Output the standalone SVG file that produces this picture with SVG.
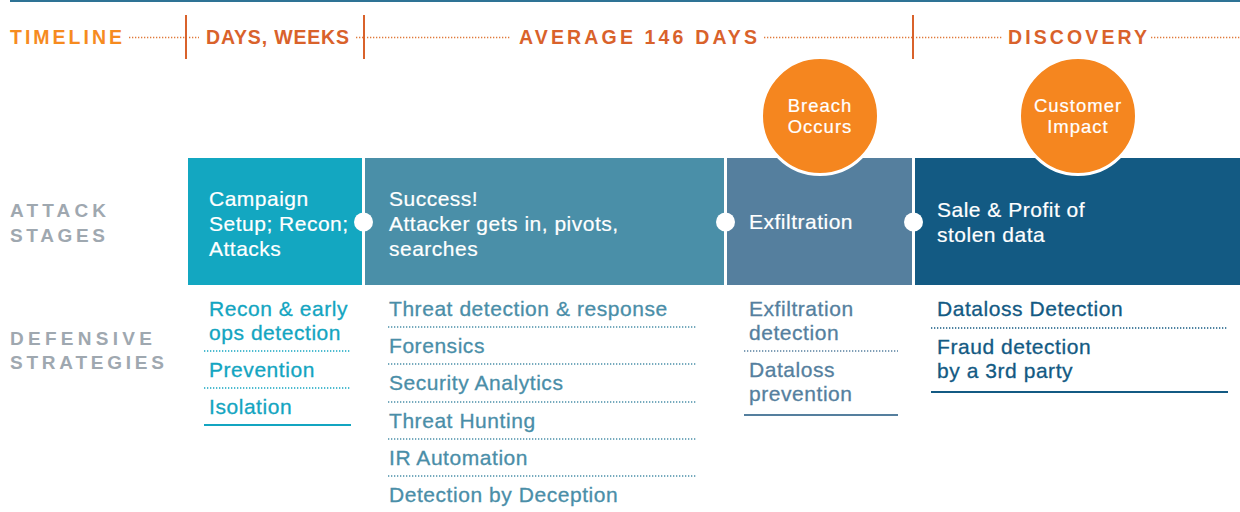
<svg xmlns="http://www.w3.org/2000/svg" width="1240" height="512" viewBox="0 0 1240 512">
<style>
.hdr{font-family:"Liberation Sans",Arial,sans-serif;font-weight:bold;font-size:19.5px;fill:#d9622b}
.tl{fill:#f68b1f}
.lbl{font-family:"Liberation Sans",Arial,sans-serif;font-weight:bold;font-size:19px;fill:#9fa8b0}
.bx{font-family:"Liberation Sans",Arial,sans-serif;font-size:21px;letter-spacing:0.5px;fill:#ffffff;stroke:#ffffff;stroke-width:0.2}
.ct{font-family:"Liberation Sans",Arial,sans-serif;font-size:18.5px;letter-spacing:1px;fill:#ffffff;stroke:#ffffff;stroke-width:0.2;text-anchor:middle}
.it{font-family:"Liberation Sans",Arial,sans-serif;font-size:21px;letter-spacing:0.55px;stroke-width:0.3}
.dotT{stroke:#e07a3a;stroke-width:1.3;stroke-dasharray:1.3 1.7;fill:none}
.tick{stroke:#d9622b;stroke-width:2}
.c1{fill:#13a5c1;stroke:#13a5c1}.c2{fill:#4a8ea8;stroke:#4a8ea8}.c3{fill:#557f9e;stroke:#557f9e}.c4{fill:#135a83;stroke:#135a83}
.d1,.d2,.d3,.d4{stroke-width:1.3;stroke-dasharray:1.3 1.7;fill:none}
.s1,.s2,.s3,.s4{stroke-width:2;fill:none}
.d1,.s1{stroke:#13a5c1}.d2,.s2{stroke:#4a8ea8}.d3,.s3{stroke:#557f9e}.d4,.s4{stroke:#135a83}
.orb{fill:#f5861f;stroke:#ffffff;stroke-width:3}
.joint{fill:#ffffff}
</style>

<rect x="10" y="0" width="1230" height="2" fill="#2e7395"/>

<g id="timeline">
  <text class="hdr tl" x="10" y="44" textLength="112" lengthAdjust="spacing">TIMELINE</text>
  <text class="hdr" x="206" y="44" textLength="143" lengthAdjust="spacing">DAYS, WEEKS</text>
  <text class="hdr" x="519" y="44" textLength="238" lengthAdjust="spacing">AVERAGE 146 DAYS</text>
  <text class="hdr" x="1008" y="44" textLength="139" lengthAdjust="spacing">DISCOVERY</text>
  <path class="dotT" d="M129 37.5H185 M189 37.5H199 M356 37.5H363 M367 37.5H511 M764 37.5H912 M916 37.5H1003 M1151 37.5H1240"/>
  <line class="tick" x1="186" y1="15" x2="186" y2="59"/>
  <line class="tick" x1="364" y1="15" x2="364" y2="59"/>
  <line class="tick" x1="913" y1="15" x2="913" y2="59"/>
</g>

<g id="row-labels">
  <text class="lbl"><tspan x="10" y="217" textLength="96" lengthAdjust="spacing">ATTACK</tspan><tspan x="10" y="242" textLength="95" lengthAdjust="spacing">STAGES</tspan></text>
  <text class="lbl"><tspan x="10" y="345" textLength="142" lengthAdjust="spacing">DEFENSIVE</tspan><tspan x="10" y="369" textLength="154" lengthAdjust="spacing">STRATEGIES</tspan></text>
</g>

<g id="stage-campaign">
  <rect x="188" y="158" width="174" height="127" fill="#13a7c1"/>
  <text class="bx"><tspan x="209" y="206">Campaign</tspan><tspan x="209" y="231">Setup; Recon;</tspan><tspan x="209" y="256">Attacks</tspan></text>
</g>
<g id="stage-success">
  <rect x="365" y="158" width="359" height="127" fill="#4a8fa8"/>
  <text class="bx"><tspan x="389" y="206">Success!</tspan><tspan x="389" y="231">Attacker gets in, pivots,</tspan><tspan x="389" y="256">searches</tspan></text>
</g>
<g id="stage-exfiltration">
  <rect x="727" y="158" width="185" height="127" fill="#557f9e"/>
  <text class="bx" x="749" y="229">Exfiltration</text>
</g>
<g id="stage-sale">
  <rect x="915" y="158" width="325" height="127" fill="#135a83"/>
  <text class="bx"><tspan x="937" y="217">Sale &amp; Profit of</tspan><tspan x="937" y="242">stolen data</tspan></text>
</g>

<g id="event-breach">
  <circle class="orb" cx="820" cy="116" r="58.5"/>
  <text class="ct"><tspan x="820" y="112">Breach</tspan><tspan x="820" y="133">Occurs</tspan></text>
</g>
<g id="event-customer">
  <circle class="orb" cx="1078" cy="116" r="58.5"/>
  <text class="ct"><tspan x="1078" y="112">Customer</tspan><tspan x="1078" y="133">Impact</tspan></text>
</g>

<g id="connectors">
  <circle class="joint" cx="363.5" cy="222" r="9.5"/>
  <circle class="joint" cx="725.5" cy="222" r="9.5"/>
  <circle class="joint" cx="913.5" cy="222" r="9.5"/>
</g>

<g id="strategies-campaign">
  <text class="it c1"><tspan x="209" y="316">Recon &amp; early</tspan><tspan x="209" y="340">ops detection</tspan></text>
  <line class="d1" x1="204" y1="351" x2="351" y2="351"/>
  <text class="it c1" x="209" y="377">Prevention</text>
  <line class="d1" x1="204" y1="388" x2="351" y2="388"/>
  <text class="it c1" x="209" y="414">Isolation</text>
  <line class="s1" x1="204" y1="425" x2="351" y2="425"/>
</g>

<g id="strategies-success">
  <text class="it c2" x="389" y="316">Threat detection &amp; response</text>
  <line class="d2" x1="388" y1="327" x2="697" y2="327"/>
  <text class="it c2" x="389" y="353">Forensics</text>
  <line class="d2" x1="388" y1="364" x2="697" y2="364"/>
  <text class="it c2" x="389" y="390">Security Analytics</text>
  <line class="d2" x1="388" y1="402" x2="697" y2="402"/>
  <text class="it c2" x="389" y="428">Threat Hunting</text>
  <line class="d2" x1="388" y1="439" x2="697" y2="439"/>
  <text class="it c2" x="389" y="465">IR Automation</text>
  <line class="d2" x1="388" y1="476" x2="697" y2="476"/>
  <text class="it c2" x="389" y="502">Detection by Deception</text>
</g>

<g id="strategies-exfiltration">
  <text class="it c3"><tspan x="749" y="316">Exfiltration</tspan><tspan x="749" y="340">detection</tspan></text>
  <line class="d3" x1="744" y1="351" x2="898" y2="351"/>
  <text class="it c3"><tspan x="749" y="377">Dataloss</tspan><tspan x="749" y="401">prevention</tspan></text>
  <line class="s3" x1="744" y1="415" x2="898" y2="415"/>
</g>

<g id="strategies-sale">
  <text class="it c4" x="937" y="316">Dataloss Detection</text>
  <line class="d4" x1="931" y1="328" x2="1228" y2="328"/>
  <text class="it c4"><tspan x="937" y="354">Fraud detection</tspan><tspan x="937" y="378">by a 3rd party</tspan></text>
  <line class="s4" x1="931" y1="392" x2="1228" y2="392"/>
</g>
</svg>
